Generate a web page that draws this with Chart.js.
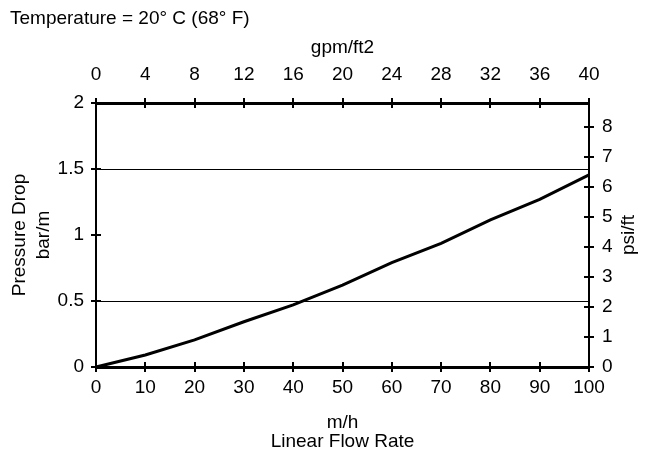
<!DOCTYPE html>
<html>
<head>
<meta charset="utf-8">
<script src="https://cdn.jsdelivr.net/npm/chart.js@4.4.0/dist/chart.umd.min.js"></script>
<style>
  html, body { margin: 0; padding: 0; background: #fff; }
  #c { display: block; }
</style>
</head>
<body>
<canvas id="c" width="646" height="456"></canvas>
<script>
// ---- data ----
const flowRate = [0, 10, 20, 30, 40, 50, 60, 70, 80, 90, 100];          // m/h
const pressureDrop = [0, 0.091, 0.205, 0.343, 0.47, 0.621, 0.79, 0.937, 1.114, 1.27, 1.455]; // bar/m
const bottomTicks = [0, 10, 20, 30, 40, 50, 60, 70, 80, 90, 100];
const topTicks = [0, 4, 8, 12, 16, 20, 24, 28, 32, 36, 40];
const leftTicks = [0, 0.5, 1, 1.5, 2];
const rightTicks = [0, 1, 2, 3, 4, 5, 6, 7, 8];
const gridValues = [0.5, 1.5];
const barPerMToPsiPerFt = 4.4;

const titleText = 'Temperature = 20° C (68° F)';
const xTitle = ['m/h', 'Linear Flow Rate'];
const x2Title = 'gpm/ft2';
const yTitle = ['Pressure Drop', 'bar/m'];
const y2Title = 'psi/ft';

const FONT = "'Liberation Sans', Arial, sans-serif";
const FS = 19;
Chart.defaults.font.family = FONT;
Chart.defaults.font.size = FS;
Chart.defaults.color = '#000';

const points = flowRate.map((x, i) => ({ x: x, y: pressureDrop[i] }));

const tickMarks = {
  id: 'tickMarks',
  afterDraw(chart) {
    const ctx = chart.ctx;
    const s = chart.scales;
    ctx.save();
    ctx.strokeStyle = '#000';
    ctx.lineWidth = 2;
    const hMarks = (scale, vals, y) => {
      vals.forEach(v => {
        const px = Math.round(scale.getPixelForValue(v));
        ctx.beginPath(); ctx.moveTo(px, y - 5); ctx.lineTo(px, y + 5); ctx.stroke();
      });
    };
    const vMarks = (scale, vals, x) => {
      vals.forEach(v => {
        const py = Math.round(scale.getPixelForValue(v));
        ctx.beginPath(); ctx.moveTo(x - 5, py); ctx.lineTo(x + 5, py); ctx.stroke();
      });
    };
    const a = chart.chartArea;
    hMarks(s.x, s.x.ticks.map(t => t.value), a.bottom);
    hMarks(s.x2, s.x2.ticks.map(t => t.value), a.top);
    vMarks(s.y, s.y.ticks.map(t => t.value), a.left);
    vMarks(s.y2, s.y2.ticks.map(t => t.value), a.right);

    // extra texts
    ctx.fillStyle = '#000';
    ctx.font = FS + 'px ' + FONT;
    ctx.textAlign = 'left';
    ctx.textBaseline = 'alphabetic';
    ctx.fillText(titleText, 10, 24);

    ctx.translate(629, (a.top + a.bottom) / 2);
    ctx.rotate(-Math.PI / 2);
    ctx.textAlign = 'center';
    ctx.textBaseline = 'middle';
    ctx.fillText(y2Title, 0, 0);
    ctx.restore();
  }
};

new Chart(document.getElementById('c'), {
  type: 'line',
  data: {
    datasets: [{
      data: points,
      borderColor: '#000',
      borderWidth: 3,
      pointRadius: 0,
      tension: 0,
      fill: false,
      clip: false
    }]
  },
  options: {
    responsive: false,
    animation: false,
    layout: { padding: { top: 30, left: 0, right: 0, bottom: 0 } },
    plugins: { legend: { display: false }, tooltip: { enabled: false }, title: { display: false } },
    scales: {
      x: {
        type: 'linear', position: 'bottom', min: 0, max: 100,
        afterBuildTicks: s => { s.ticks = bottomTicks.map(v => ({ value: v })); },
        ticks: { padding: 9, callback: v => String(v) },
        grid: { display: false, drawTicks: false },
        border: { display: true, color: '#000', width: 3 },
        title: { display: true, text: xTitle, font: { size: FS, lineHeight: 1.0 }, padding: { top: 0, bottom: 5 } },
        afterFit: s => { s.height = 89; }
      },
      x2: {
        type: 'linear', position: 'top', min: 0, max: 40,
        afterBuildTicks: s => { s.ticks = topTicks.map(v => ({ value: v })); },
        ticks: { padding: 17, callback: v => String(v) },
        grid: { display: false, drawTicks: false },
        border: { display: true, color: '#000', width: 3 },
        title: { display: true, text: x2Title, font: { size: FS, lineHeight: 1.2 }, padding: { top: 6, bottom: 0 } },
        afterFit: s => { s.height = 73; }
      },
      y: {
        type: 'linear', position: 'left', min: 0, max: 2,
        afterBuildTicks: s => { s.ticks = leftTicks.map(v => ({ value: v })); },
        ticks: { padding: 12, callback: v => String(v) },
        grid: {
          display: true, drawTicks: false, lineWidth: 1,
          color: c => (c.tick && gridValues.includes(c.tick.value)) ? '#000' : 'rgba(0,0,0,0)'
        },
        border: { display: true, color: '#000', width: 2 },
        title: { display: true, text: yTitle, font: { size: FS, lineHeight: 1.3 }, padding: { top: 7, bottom: 0 } },
        afterFit: s => { s.width = 96; }
      },
      y2: {
        type: 'linear', position: 'right', min: 0, max: 2 * barPerMToPsiPerFt,
        afterBuildTicks: s => { s.ticks = rightTicks.map(v => ({ value: v })); },
        ticks: { padding: 13, callback: v => String(v) },
        grid: { display: false, drawTicks: false },
        border: { display: true, color: '#000', width: 2 },
        afterFit: s => { s.width = 57; }
      }
    }
  },
  plugins: [tickMarks]
});
</script>
</body>
</html>
